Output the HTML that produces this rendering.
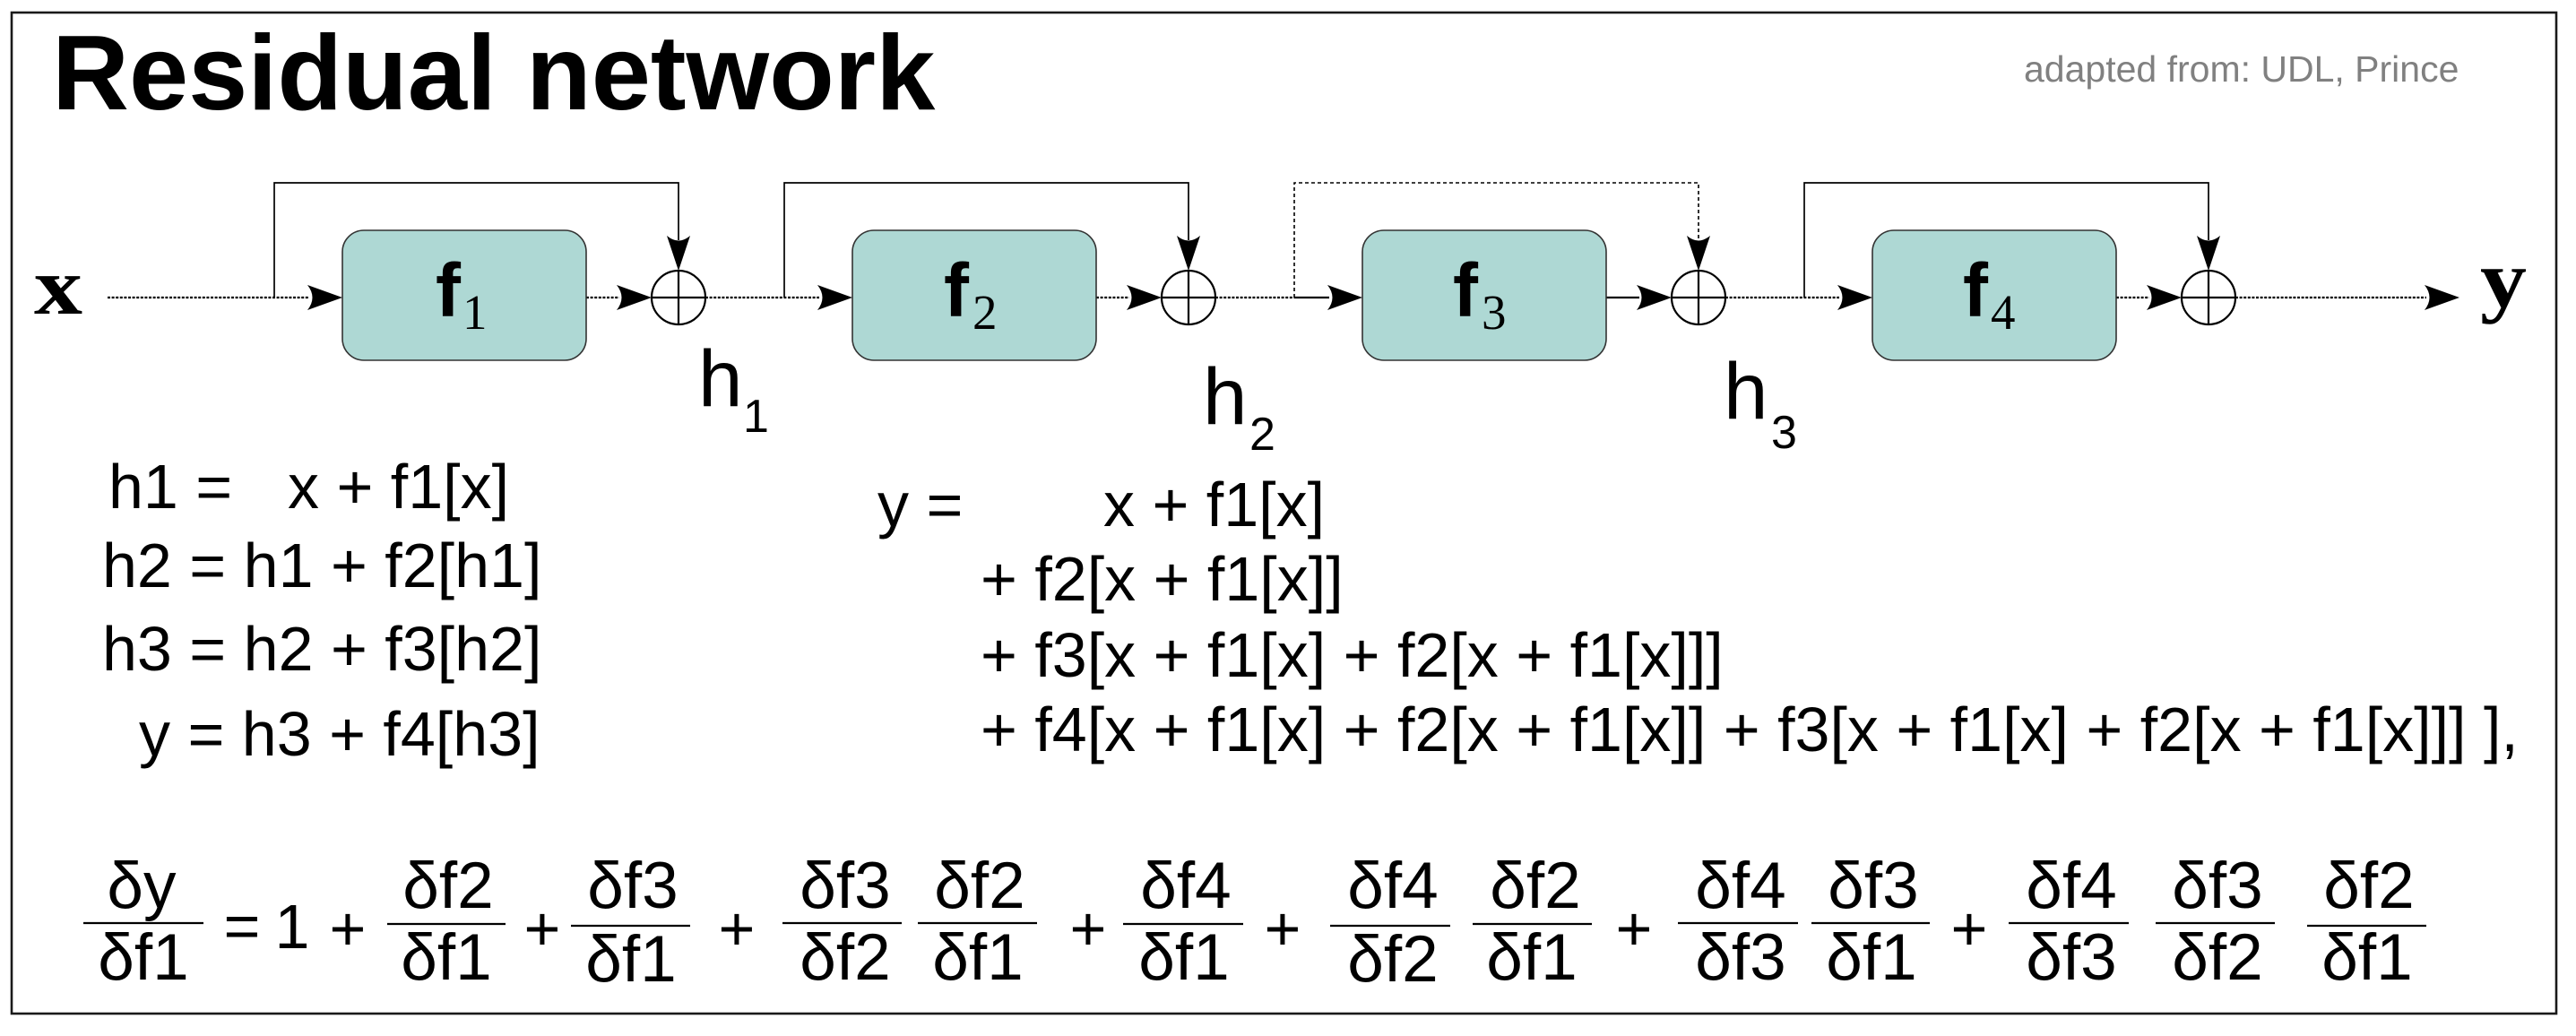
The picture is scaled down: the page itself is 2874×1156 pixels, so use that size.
<!DOCTYPE html>
<html>
<head>
<meta charset="utf-8">
<style>
  html, body { margin: 0; padding: 0; background: #ffffff; }
  svg { display: block; }
  .sans { font-family: "Liberation Sans", Arial, sans-serif; }
  .serif { font-family: "Liberation Serif", "Times New Roman", serif; }
</style>
</head>
<body>
<svg width="2874" height="1156" viewBox="0 0 2874 1156" xmlns="http://www.w3.org/2000/svg">
  <rect x="0" y="0" width="2874" height="1156" fill="#ffffff"/>
  <!-- outer border -->
  <rect x="13" y="14" width="2839" height="1117" fill="none" stroke="#1a1a1a" stroke-width="2.6"/>

  <!-- Title -->
  <text x="58" y="122" class="sans" font-size="119" font-weight="bold" fill="#000">Residual network</text>
  <text x="2258" y="91" class="sans" font-size="41" fill="#808080">adapted from: UDL, Prince</text>

  <!-- ===== Diagram ===== -->
  <g fill="none" stroke="#000">
    <g stroke-width="2.2" stroke-dasharray="3 1.6">
      <line x1="120" y1="332" x2="345" y2="332"/>
      <line x1="654" y1="332" x2="691" y2="332"/>
      <line x1="787" y1="332" x2="914" y2="332"/>
      <line x1="1223" y1="332" x2="1260" y2="332"/>
      <line x1="1356" y1="332" x2="1444" y2="332"/>
      <line x1="1925" y1="332" x2="2052" y2="332"/>
      <line x1="2361" y1="332" x2="2398" y2="332"/>
      <line x1="2494" y1="332" x2="2707" y2="332"/>
    </g>
    <g stroke-width="2.2">
      <line x1="1444" y1="332" x2="1483" y2="332"/>
      <line x1="1792" y1="332" x2="1829" y2="332"/>
    </g>
    <g stroke-width="1.7">
      <polyline points="306,332 306,204 757,204 757,268"/>
      <polyline points="875,332 875,204 1326,204 1326,268"/>
      <polyline points="2013,332 2013,204 2464,204 2464,268"/>
    </g>
    <polyline points="1444,332 1444,204 1895,204 1895,268" stroke-width="1.6" stroke-dasharray="4 3"/>
  </g>

  <!-- boxes -->
  <g fill="#aed8d4" stroke="#333" stroke-width="1.6">
    <rect x="382" y="257" width="272" height="145" rx="24" ry="24"/>
    <rect x="951" y="257" width="272" height="145" rx="24" ry="24"/>
    <rect x="1520" y="257" width="272" height="145" rx="24" ry="24"/>
    <rect x="2089" y="257" width="272" height="145" rx="24" ry="24"/>
  </g>

  <!-- sum nodes -->
  <g fill="#ffffff" stroke="#000" stroke-width="2.2">
    <circle cx="757" cy="332" r="30"/>
    <circle cx="1326" cy="332" r="30"/>
    <circle cx="1895" cy="332" r="30"/>
    <circle cx="2464" cy="332" r="30"/>
  </g>
  <g stroke="#000" stroke-width="2.2">
    <line x1="727" y1="332" x2="787" y2="332"/><line x1="757" y1="302" x2="757" y2="362"/>
    <line x1="1296" y1="332" x2="1356" y2="332"/><line x1="1326" y1="302" x2="1326" y2="362"/>
    <line x1="1865" y1="332" x2="1925" y2="332"/><line x1="1895" y1="302" x2="1895" y2="362"/>
    <line x1="2434" y1="332" x2="2494" y2="332"/><line x1="2464" y1="302" x2="2464" y2="362"/>
  </g>

  <!-- arrowheads -->
  <g fill="#000" stroke="none">
    <path d="M382,332 L343,318 Q354,332 343,346 Z"/>
    <path d="M727,332 L688,318 Q699,332 688,346 Z"/>
    <path d="M951,332 L912,318 Q923,332 912,346 Z"/>
    <path d="M1296,332 L1257,318 Q1268,332 1257,346 Z"/>
    <path d="M1520,332 L1481,318 Q1492,332 1481,346 Z"/>
    <path d="M1865,332 L1826,318 Q1837,332 1826,346 Z"/>
    <path d="M2089,332 L2050,318 Q2061,332 2050,346 Z"/>
    <path d="M2434,332 L2395,318 Q2406,332 2395,346 Z"/>
    <path d="M2744,332 L2705,318 Q2716,332 2705,346 Z"/>
    <path d="M757,302 L744,263 Q757,274 770,263 Z"/>
    <path d="M1326,302 L1313,263 Q1326,274 1339,263 Z"/>
    <path d="M1895,302 L1882,263 Q1895,274 1908,263 Z"/>
    <path d="M2464,302 L2451,263 Q2464,274 2477,263 Z"/>
  </g>

  <!-- input / output labels -->
  <text x="38" y="350" class="serif" font-size="91" font-weight="bold" fill="#000" textLength="54" lengthAdjust="spacingAndGlyphs">x</text>
  <text x="2767" y="342" class="serif" font-size="91" font-weight="bold" fill="#000" textLength="52" lengthAdjust="spacingAndGlyphs">y</text>

  <!-- box labels -->
  <g fill="#000">
    <text x="486" y="353" class="sans" font-size="84" font-weight="bold">f</text>
    <text x="516" y="367" class="serif" font-size="55">1</text>
    <text x="1053" y="353" class="sans" font-size="84" font-weight="bold">f</text>
    <text x="1085" y="367" class="serif" font-size="55">2</text>
    <text x="1621" y="353" class="sans" font-size="84" font-weight="bold">f</text>
    <text x="1653" y="367" class="serif" font-size="55">3</text>
    <text x="2190" y="353" class="sans" font-size="84" font-weight="bold">f</text>
    <text x="2221" y="367" class="serif" font-size="55">4</text>
  </g>

  <!-- h labels -->
  <g fill="#000" class="sans">
    <text x="779" y="453" font-size="89">h</text>
    <text x="829" y="482" font-size="52">1</text>
    <text x="1342" y="473" font-size="89">h</text>
    <text x="1394" y="502" font-size="52">2</text>
    <text x="1923" y="467" font-size="89">h</text>
    <text x="1976" y="500" font-size="52">3</text>
  </g>

  <!-- Equations (left) -->
  <g fill="#000" class="sans" font-size="70">
    <text x="121" y="567">h1 =</text>
    <text x="321" y="567">x + f1[x]</text>
    <text x="114" y="655">h2 = h1 + f2[h1]</text>
    <text x="114" y="748">h3 = h2 + f3[h2]</text>
    <text x="155" y="843">y = h3 + f4[h3]</text>
  </g>

  <!-- Equations (middle) -->
  <g fill="#000" class="sans" font-size="70">
    <text x="979" y="587">y =</text>
    <text x="1231" y="587">x + f1[x]</text>
    <text x="1094" y="670">+ f2[x + f1[x]]</text>
    <text x="1094" y="755">+ f3[x + f1[x] + f2[x + f1[x]]]</text>
    <text x="1094" y="838">+ f4[x + f1[x] + f2[x + f1[x]] + f3[x + f1[x] + f2[x + f1[x]]] ],</text>
  </g>

  <!-- Derivative formula -->
  <g fill="#000" class="sans" font-size="73" text-anchor="middle">
    <text x="158" y="1013">δy</text>
    <text x="500" y="1013">δf2</text>
    <text x="706" y="1013">δf3</text>
    <text x="943" y="1013">δf3</text>
    <text x="1093" y="1013">δf2</text>
    <text x="1323" y="1013">δf4</text>
    <text x="1554" y="1013">δf4</text>
    <text x="1713" y="1013">δf2</text>
    <text x="1942" y="1013">δf4</text>
    <text x="2090" y="1013">δf3</text>
    <text x="2311" y="1013">δf4</text>
    <text x="2474" y="1013">δf3</text>
    <text x="2643" y="1013">δf2</text>
    <text x="160" y="1093">δf1</text>
    <text x="498" y="1093">δf1</text>
    <text x="704" y="1095">δf1</text>
    <text x="943" y="1093">δf2</text>
    <text x="1091" y="1093">δf1</text>
    <text x="1321" y="1093">δf1</text>
    <text x="1554" y="1095">δf2</text>
    <text x="1709" y="1093">δf1</text>
    <text x="1942" y="1093">δf3</text>
    <text x="2088" y="1093">δf1</text>
    <text x="2311" y="1093">δf3</text>
    <text x="2474" y="1093">δf2</text>
    <text x="2641" y="1093">δf1</text>
  </g>
  <g stroke="#000" stroke-width="2.2">
    <line x1="93" y1="1030" x2="227" y2="1030"/>
    <line x1="432" y1="1031" x2="564" y2="1031"/>
    <line x1="637" y1="1033" x2="770" y2="1033"/>
    <line x1="873" y1="1030" x2="1006" y2="1030"/>
    <line x1="1024" y1="1030" x2="1157" y2="1030"/>
    <line x1="1253" y1="1031" x2="1387" y2="1031"/>
    <line x1="1484" y1="1033" x2="1618" y2="1033"/>
    <line x1="1643" y1="1031" x2="1776" y2="1031"/>
    <line x1="1872" y1="1030" x2="2006" y2="1030"/>
    <line x1="2021" y1="1030" x2="2153" y2="1030"/>
    <line x1="2241" y1="1030" x2="2375" y2="1030"/>
    <line x1="2405" y1="1030" x2="2538" y2="1030"/>
    <line x1="2574" y1="1033" x2="2707" y2="1033"/>
  </g>
  <g fill="#000" class="sans" font-size="70" text-anchor="middle">
    <text x="270" y="1057">=</text>
    <text x="326" y="1058">1</text>
    <text x="388" y="1060">+</text>
    <text x="605" y="1060">+</text>
    <text x="822" y="1060">+</text>
    <text x="1214" y="1060">+</text>
    <text x="1431" y="1060">+</text>
    <text x="1823" y="1060">+</text>
    <text x="2197" y="1060">+</text>
  </g>
</svg>
</body>
</html>
